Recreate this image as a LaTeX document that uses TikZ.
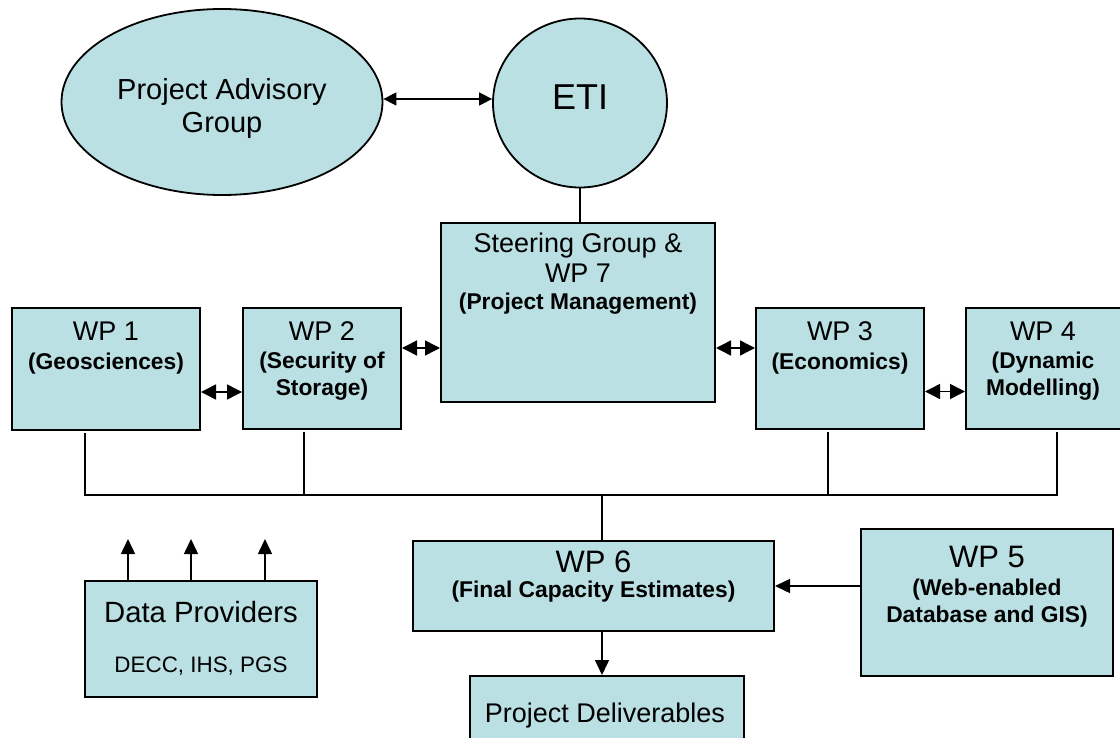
\documentclass[tikz,border=0pt]{standalone}
\usepackage{fontspec}
\setmainfont{Liberation Sans}
\usetikzlibrary{arrows.meta,shapes.geometric}
\definecolor{boxfill}{RGB}{186,224,227}
\begin{document}
\begin{tikzpicture}[x=1pt,y=-1pt,
  box/.style={draw=black,line width=2pt,fill=boxfill,inner sep=0pt,rectangle},
  oval/.style={draw=black,line width=1.8pt,fill=boxfill,ellipse,inner sep=0pt},
  con/.style={line width=1.5pt},
  dbl/.style={con,{Triangle[length=15pt,width=15pt]}-{Triangle[length=15pt,width=15pt]}},
  dblsm/.style={con,{Triangle[length=13pt,width=13pt]}-{Triangle[length=13pt,width=13pt]}},
  one/.style={con,-{Triangle[length=15pt,width=14pt]}},
  big/.style={font=\fontsize{27}{30}\selectfont,anchor=base,inner sep=0pt},
  bigger/.style={font=\fontsize{31}{34}\selectfont,anchor=base,inner sep=0pt},
  bf/.style={font=\fontsize{22.8}{25}\selectfont\bfseries,anchor=base,inner sep=0pt},
  sm/.style={font=\fontsize{22.4}{25}\selectfont,anchor=base,inner sep=0pt},
]
\useasboundingbox (0,0) rectangle (1120,738);

% shapes
\node[oval,minimum width=321pt,minimum height=186pt] (pag) at (222,102) {};
\node[oval,minimum width=174pt,minimum height=169pt] (eti) at (580,103) {};
\node[box,minimum width=274pt,minimum height=179pt] (sg) at (578,312.5) {};
\node[box,minimum width=188pt,minimum height=122pt] (wp1) at (106,369) {};
\node[box,minimum width=158pt,minimum height=121pt] (wp2) at (322,368.5) {};
\node[box,minimum width=168pt,minimum height=121pt] (wp3) at (840,368.5) {};
\node[box,minimum width=164pt,minimum height=121pt] (wp4) at (1048,368.5) {};
\node[box,minimum width=361pt,minimum height=90pt] (wp6) at (593.5,586) {};
\node[box,minimum width=252pt,minimum height=147pt] (wp5) at (987,602.5) {};
\node[box,minimum width=232pt,minimum height=116pt] (dp) at (201,639) {};
\node[box,minimum width=274pt,minimum height=74pt] (pd) at (607,713) {};

% texts
\node[font=\fontsize{29}{32}\selectfont,anchor=base,inner sep=0pt] (tpag1) at (222,100) {Project Advisory};
\node[font=\fontsize{29}{32}\selectfont,anchor=base,inner sep=0pt] (tpag2) at (222,133) {Group};
\node[font=\fontsize{36}{40}\selectfont,anchor=base,inner sep=0pt] (teti) at (580,110) {ETI};
\node[big] (tsg1) at (578,253) {Steering Group \&};
\node[big] (tsg2) at (578,283) {WP 7};
\node[bf] (tsg3) at (578,310) {(Project Management)};
\node[big] (twp1a) at (106,341) {WP 1};
\node[bf] (twp1b) at (106,369) {(Geosciences)};
\node[big] (twp2a) at (322,341) {WP 2};
\node[bf] (twp2b) at (322,368) {(Security of};
\node[bf] (twp2c) at (322,395) {Storage)};
\node[big] (twp3a) at (840,341) {WP 3};
\node[bf] (twp3b) at (840,369) {(Economics)};
\node[big] (twp4a) at (1043,341) {WP 4};
\node[bf] (twp4b) at (1043,368) {(Dynamic};
\node[bf] (twp4c) at (1043,395) {Modelling)};
\node[bigger] (twp6a) at (593.5,572) {WP 6};
\node[bf] (twp6b) at (593.5,597) {(Final Capacity Estimates)};
\node[bigger] (twp5a) at (987,567) {WP 5};
\node[bf] (twp5b) at (987,595) {(Web-enabled};
\node[bf] (twp5c) at (987,622) {Database and GIS)};
\node[font=\fontsize{29.3}{32}\selectfont,anchor=base,inner sep=0pt] (tdp1) at (201,622) {Data Providers};
\node[sm] (tdp2) at (201,672) {DECC, IHS, PGS};
\node[big] (tpd) at (605,722) {Project Deliverables};

% connectors
\draw[dblsm] ([yshift=3pt]pag.east) -- ([yshift=3pt]pag.east -| eti.west);
\draw[con] (eti.south) -- (eti.south |- sg.north);

\coordinate (a1) at ([yshift=-23pt]wp1.east);
\draw[dbl] (a1) -- (a1 -| wp2.west);
\coordinate (a2) at ([yshift=20.5pt]wp2.east);
\draw[dbl] (a2) -- (a2 -| sg.west);
\coordinate (a3) at ([yshift=20.5pt]wp3.west);
\draw[dbl] (a3 -| sg.east) -- (a3);
\coordinate (a4) at ([yshift=-23pt]wp3.east);
\draw[dbl] (a4) -- (a4 -| wp4.west);

% bus
\coordinate (busy) at (0,495);
\coordinate (b1) at ([xshift=-21pt,yshift=-2pt]wp1.south);
\coordinate (b4) at ([xshift=9pt,yshift=-2pt]wp4.south);
\draw[con] (b1) -- (b1 |- busy) -- (b4 |- busy) -- (b4);
\coordinate (b2) at ([xshift=-18pt,yshift=-2pt]wp2.south);
\draw[con] (b2) -- (b2 |- busy);
\coordinate (b3) at ([xshift=-12pt,yshift=-2pt]wp3.south);
\draw[con] (b3) -- (b3 |- busy);
\coordinate (b6) at ([xshift=8.5pt]wp6.north);
\draw[con] (b6) -- (b6 |- busy);

\draw[one] (wp5.west |- wp6.east) -- (wp6.east);
\coordinate (c6) at ([xshift=8.5pt]wp6.south);
\draw[one] (c6) -- (c6 |- pd.north);

\coordinate (d1) at ([xshift=-73pt]dp.north);
\coordinate (d2) at ([xshift=-10pt]dp.north);
\coordinate (d3) at ([xshift=64pt]dp.north);
\draw[one] (d1) -- ++(0,-41);
\draw[one] (d2) -- ++(0,-41);
\draw[one] (d3) -- ++(0,-41);
\end{tikzpicture}
\end{document}
